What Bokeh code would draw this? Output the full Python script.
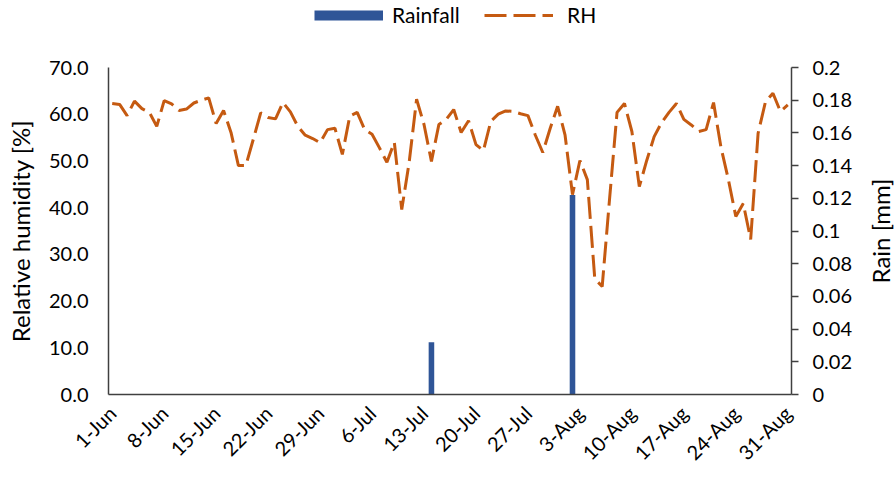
import math
import datetime as dt
from bokeh.plotting import figure
from bokeh.layouts import column, row
from bokeh.models import (Range1d, LinearAxis, FixedTicker, Legend, LegendItem)
from bokeh.embed import file_html
from bokeh.resources import INLINE

# ---- data ----
start_date = dt.date(2020, 6, 1)
rh_percent = [
    62.3, 62.1, 59.7, 62.8, 61.2, 60.4, 57.4, 62.9, 62.2, 60.8,
    61.1, 62.4, 63.0, 63.5, 58.0, 60.8, 56.1, 49.0, 49.0, 54.6,
    60.3, 59.3, 59.0, 62.5, 60.5, 57.4, 55.5, 54.8, 53.9, 56.7,
    57.0, 51.4, 59.6, 60.4, 56.7, 55.7, 52.8, 49.7, 54.0, 39.6,
    49.7, 63.2, 57.8, 49.9, 57.8, 58.9, 61.0, 56.1, 58.6, 53.5,
    52.2, 58.5, 60.0, 60.7, 60.6, 60.1, 59.7, 55.5, 51.8, 57.0,
    61.7, 55.5, 42.8, 50.1, 46.0, 24.8, 23.1, 42.0, 60.4, 62.3,
    56.3, 44.5, 50.1, 55.2, 58.2, 60.4, 62.3, 58.9, 57.7, 56.3,
    56.7, 62.5, 52.9, 46.0, 38.1, 40.9, 33.2, 55.9, 62.7, 64.5,
    60.6, 62.0,
]
rain_dates = ["14-Jul", "2-Aug"]
rain_mm = [0.032, 0.122]

x_tick_labels = ["1-Jun", "8-Jun", "15-Jun", "22-Jun", "29-Jun", "6-Jul", "13-Jul",
                 "20-Jul", "27-Jul", "3-Aug", "10-Aug", "17-Aug", "24-Aug", "31-Aug"]
rh_ticks = [0, 10, 20, 30, 40, 50, 60, 70]
rh_tick_labels = ["0.0", "10.0", "20.0", "30.0", "40.0", "50.0", "60.0", "70.0"]
rain_ticks = [0, 0.02, 0.04, 0.06, 0.08, 0.1, 0.12, 0.14, 0.16, 0.18, 0.2]
rain_tick_labels = ["0", "0.02", "0.04", "0.06", "0.08", "0.1", "0.12", "0.14", "0.16", "0.18", "0.2"]

# ---- derived ----
dates = [start_date + dt.timedelta(days=i) for i in range(len(rh_percent))]
date_labels = [f"{d.day}-{d.strftime('%b')}" for d in dates]
day_idx = list(range(len(rh_percent)))
rain_x = [date_labels.index(s) for s in rain_dates]
x_tick_pos = [date_labels.index(s) for s in x_tick_labels]

FONT = "Lato"
FS_TICK = "20px"
FS_TITLE = "24px"
FS_LEG = "21px"
TXT = "#000000"
AX = "#404040"
BAR_C = "#2F5597"
LINE_C = "#C55A11"
DASH = "22 7"

TOTAL_W, TOTAL_H = 894, 476
LEG_H = 29
BORDER_L = 108
FRAME_R = 791
RIGHT_NEED = 72
MAIN_W = FRAME_R + RIGHT_NEED
SIDE_W = TOTAL_W - MAIN_W
BORDER_TOP = 67 - LEG_H
BORDER_BOT = 82
MAIN_H = TOTAL_H - LEG_H

# ---- legend strip ----
lf = figure(width=TOTAL_W, height=LEG_H, output_backend="svg", toolbar_location=None,
            x_range=Range1d(0, 1), y_range=Range1d(0, 1),
            x_axis_location=None, y_axis_location=None, title=None,
            min_border_top=0, min_border_bottom=0,
            min_border_left=BORDER_L, min_border_right=TOTAL_W - FRAME_R)
lf.outline_line_color = None
lf.xgrid.visible = False
lf.ygrid.visible = False
lf.background_fill_color = "white"
lf.border_fill_color = "white"
nan = float("nan")
leg_bar = lf.line(x=[nan], y=[nan], line_color=BAR_C, line_width=10, line_cap="butt")
leg_line = lf.line(x=[nan], y=[nan], line_color=LINE_C, line_width=3, line_dash=DASH,
                   line_cap="butt")

common = dict(orientation="horizontal", location="center_left",
              glyph_width=69, glyph_height=40, label_height=40,
              padding=0, border_line_color=None, background_fill_alpha=0,
              label_text_font=FONT, label_text_font_size=FS_LEG, label_text_color=TXT)
leg1 = Legend(items=[LegendItem(label="Rainfall", renderers=[leg_bar])],
              margin=206, label_standoff=9, **common)
leg2 = Legend(items=[LegendItem(label="RH", renderers=[leg_line])],
              margin=376, label_standoff=14, **common)
lf.add_layout(leg1)
lf.add_layout(leg2)

# ---- main chart ----
p = figure(width=MAIN_W, height=MAIN_H, output_backend="svg", toolbar_location=None, title=None,
           x_range=Range1d(-0.5, len(rh_percent) - 0.5), y_range=Range1d(0, 70),
           min_border_left=BORDER_L, min_border_right=RIGHT_NEED,
           min_border_top=BORDER_TOP, min_border_bottom=BORDER_BOT)
p.extra_y_ranges = {"rain": Range1d(0, 0.2)}
p.xgrid.visible = False
p.ygrid.visible = False
p.outline_line_color = None
p.background_fill_color = "white"
p.border_fill_color = "white"

bars = p.vbar(x=rain_x, top=rain_mm, width=0.75, y_range_name="rain",
              fill_color=BAR_C, line_color=None)
line = p.line(day_idx, rh_percent, line_color=LINE_C, line_width=3,
              line_dash=DASH, line_cap="butt")

# x axis
xa = p.xaxis[0]
xa.ticker = FixedTicker(ticks=x_tick_pos)
xa.major_label_overrides = {k: v for k, v in zip(x_tick_pos, x_tick_labels)}
xa.major_label_orientation = math.pi / 4
xa.major_tick_line_color = None
xa.minor_tick_line_color = None
xa.major_tick_out = 0
xa.major_label_standoff = 15
xa.axis_line_color = AX
xa.axis_line_width = 1.5
xa.major_label_text_font = FONT
xa.major_label_text_font_size = FS_TICK
xa.major_label_text_color = TXT

# left axis
ya = p.yaxis[0]
ya.ticker = FixedTicker(ticks=rh_ticks)
ya.major_label_overrides = {k: v for k, v in zip(rh_ticks, rh_tick_labels)}
ya.major_tick_line_color = None
ya.minor_tick_line_color = None
ya.major_tick_out = 0
ya.major_label_standoff = 20
ya.axis_line_color = AX
ya.axis_line_width = 1.5
ya.major_label_text_font = FONT
ya.major_label_text_font_size = FS_TICK
ya.major_label_text_color = TXT
ya.axis_label = "Relative humidity [%]"
ya.axis_label_text_font = FONT
ya.axis_label_text_font_size = FS_TITLE
ya.axis_label_text_font_style = "normal"
ya.axis_label_text_color = TXT
ya.axis_label_standoff = 11

# right axis (ticks + labels)
ra = LinearAxis(y_range_name="rain", ticker=FixedTicker(ticks=rain_ticks))
ra.major_label_overrides = {k: v for k, v in zip(rain_ticks, rain_tick_labels)}
ra.major_tick_line_color = AX
ra.major_tick_line_width = 1.5
ra.major_tick_out = 7
ra.major_tick_in = 0
ra.minor_tick_line_color = None
ra.major_label_standoff = 14
ra.axis_line_color = AX
ra.axis_line_width = 1.5
ra.major_label_text_font = FONT
ra.major_label_text_font_size = FS_TICK
ra.major_label_text_color = TXT
p.add_layout(ra, "right")

# ---- right axis title strip (reads bottom-to-top, centred on the plot frame) ----
side = figure(width=SIDE_W, height=MAIN_H, output_backend="svg", toolbar_location=None,
              title=None, x_range=Range1d(0, 1), y_range=Range1d(0, 0.2),
              x_axis_location=None, y_axis_location="left",
              min_border_left=0, min_border_right=0,
              min_border_top=BORDER_TOP, min_border_bottom=BORDER_BOT)
side.outline_line_color = None
side.xgrid.visible = False
side.ygrid.visible = False
side.background_fill_color = "white"
side.border_fill_color = "white"
sa = side.yaxis[0]
sa.ticker = FixedTicker(ticks=[])
sa.major_tick_line_color = None
sa.minor_tick_line_color = None
sa.major_tick_out = 0
sa.major_label_standoff = 0
sa.axis_line_color = None
sa.axis_label = "Rain [mm]"
sa.axis_label_text_font = FONT
sa.axis_label_text_font_size = FS_TITLE
sa.axis_label_text_font_style = "normal"
sa.axis_label_text_color = TXT
sa.axis_label_standoff = 0

layout = column(lf, row(p, side, spacing=0), spacing=0)
open("out.html", "w").write(file_html(layout, INLINE))
